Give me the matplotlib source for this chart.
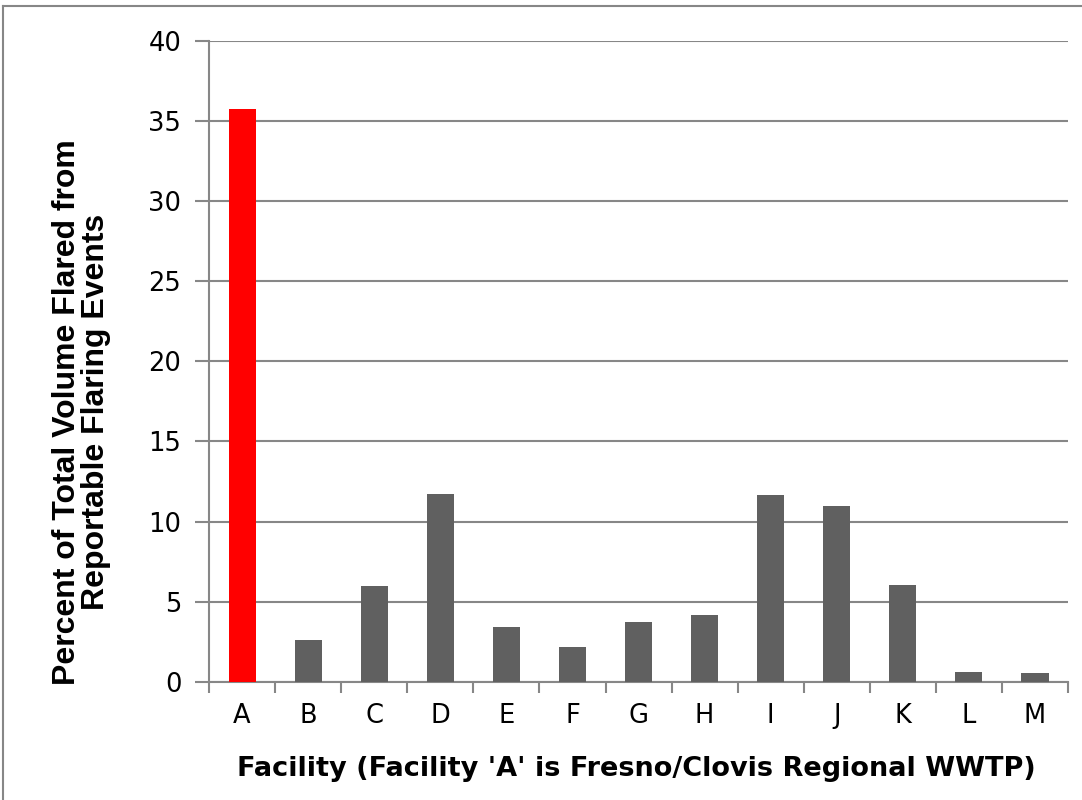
import matplotlib

matplotlib.use("Agg")
import matplotlib.pyplot as plt
from matplotlib.lines import Line2D

facilities = ["A", "B", "C", "D", "E", "F", "G", "H", "I", "J", "K", "L", "M"]
percent_flared = [35.75, 2.6, 5.95, 11.72, 3.4, 2.17, 3.73, 4.16, 11.65, 10.97, 6.04, 0.59, 0.52]
y_ticks = [0, 5, 10, 15, 20, 25, 30, 35, 40]

GRAY = "#878787"
BAR = "#606060"
HIGHLIGHT = "#ff0000"

fig = plt.figure(figsize=(10.82, 8.0), dpi=100)
ax = fig.add_axes([0.1932, 0.1479, 0.7939, 0.8008])

colors = [HIGHLIGHT if f == "A" else BAR for f in facilities]
xs = list(range(len(facilities)))
ax.bar(xs, percent_flared, width=0.41, color=colors, zorder=3)

ax.set_xlim(-0.5, len(facilities) - 0.5)
ax.set_ylim(0, 40)
ax.set_yticks(y_ticks)
ax.set_xticks(xs)
ax.set_xticklabels(facilities)
ax.set_xticks([i - 0.5 for i in range(len(facilities) + 1)], minor=True)
ax.tick_params(axis="x", which="major", length=0, pad=15, labelsize=18.5)
ax.tick_params(axis="x", which="minor", length=8, width=1.5, color=GRAY)
ax.tick_params(axis="y", length=10, width=1.5, color=GRAY, labelsize=18.5, pad=10)

ax.grid(axis="y", color=GRAY, linewidth=1.5, zorder=0)
for side in ("top", "right"):
    ax.spines[side].set_visible(False)
for side in ("left", "bottom"):
    ax.spines[side].set_color(GRAY)
    ax.spines[side].set_linewidth(1.5)

fig.text(0.588, 0.03, "Facility (Facility 'A' is Fresno/Clovis Regional WWTP)",
         ha="center", va="baseline", fontsize=19.5, fontweight="bold")
fig.text(0.0755, 0.485, "Percent of Total Volume Flared from\nReportable Flaring Events",
         ha="center", va="center", rotation=90, fontsize=23, fontweight="bold",
         family="Liberation Sans", multialignment="center", linespacing=0.95)

# outer chart-area border (only left and top edges fall inside the image)
fig.add_artist(Line2D([0.0032, 0.0032], [0.0, 0.9925], color=GRAY, lw=1.5))
fig.add_artist(Line2D([0.0032, 1.0], [0.9925, 0.9925], color=GRAY, lw=1.5))

fig.savefig("out.png", dpi=100)
